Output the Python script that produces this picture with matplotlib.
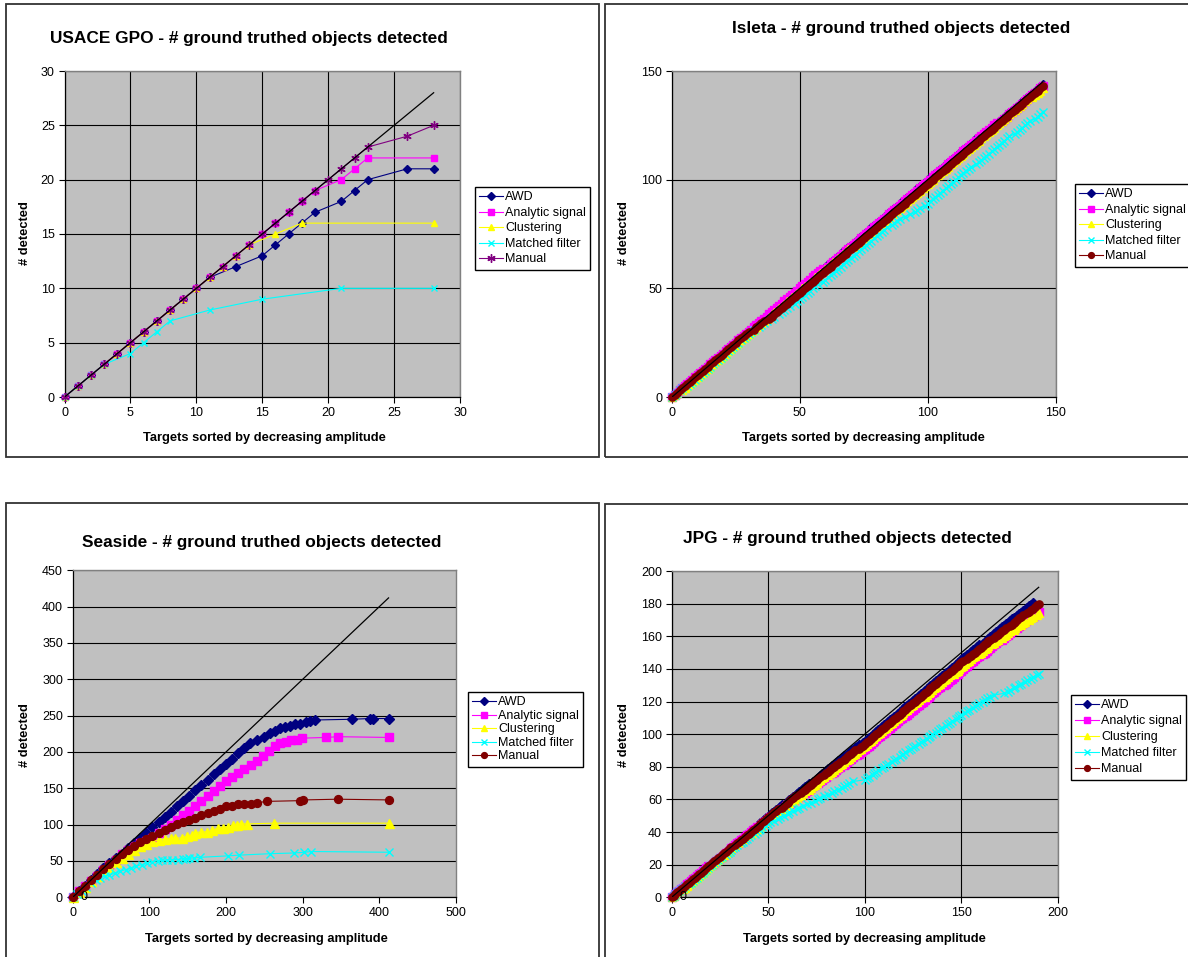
"""
Four Excel-style panels: ground truthed objects detected vs targets sorted
by decreasing amplitude, for USACE GPO, Isleta, Seaside and JPG.
Writes out.png (1188x957).
"""
import matplotlib
matplotlib.use("Agg")
import matplotlib.pyplot as plt
from matplotlib.patches import Rectangle

plt.rcParams["font.family"] = ["Liberation Sans", "DejaVu Sans"]

W, H = 1188, 957

SERIES = ["AWD", "Analytic signal", "Clustering", "Matched filter", "Manual"]
COLORS = ["#000080", "#FF00FF", "#FFFF00", "#00FFFF", "#800000"]
GPO_MANUAL_COLOR = "#800080"

# ---- USACE GPO: (rank of detected target, cumulative count) ----
GPO_AWD_X = [0, 1, 2, 3, 4, 5, 6, 7, 8, 9, 10, 11, 13, 15, 16, 17, 18, 19, 21, 22, 23, 26, 28]
GPO_AWD_Y = [0, 1, 2, 3, 4, 5, 6, 7, 8, 9, 10, 11, 12, 13, 14, 15, 16, 17, 18, 19, 20, 21, 21]
GPO_ANA_X = [0, 1, 2, 3, 4, 5, 6, 7, 8, 9, 10, 11, 12, 13, 14, 15, 16, 17, 18, 19, 21, 22, 23, 28]
GPO_ANA_Y = [0, 1, 2, 3, 4, 5, 6, 7, 8, 9, 10, 11, 12, 13, 14, 15, 16, 17, 18, 19, 20, 21, 22, 22]
GPO_CLU_X = [0, 1, 2, 3, 4, 5, 6, 7, 8, 9, 10, 11, 12, 13, 14, 16, 18, 28]
GPO_CLU_Y = [0, 1, 2, 3, 4, 5, 6, 7, 8, 9, 10, 11, 12, 13, 14, 15, 16, 16]
GPO_MF_X = [0, 1, 2, 3, 5, 6, 7, 8, 11, 15, 21, 28]
GPO_MF_Y = [0, 1, 2, 3, 4, 5, 6, 7, 8, 9, 10, 10]
GPO_MAN_X = [0, 1, 2, 3, 4, 5, 6, 7, 8, 9, 10, 11, 12, 13, 14, 15, 16, 17, 18, 19, 20, 21, 22, 23, 26, 28]
GPO_MAN_Y = [0, 1, 2, 3, 4, 5, 6, 7, 8, 9, 10, 11, 12, 13, 14, 15, 16, 17, 18, 19, 20, 21, 22, 23, 24, 25]

# ---- Isleta: 145 targets, ranks of missed targets per method ----
ISL_N = 145
ISL_AWD_MISSED = [120]
ISL_ANA_MISSED = [60, 128]
ISL_CLU_MISSED = [3, 70, 140]
ISL_MF_MISSED = [5, 33, 38, 41, 47, 58, 85, 90, 92, 94, 98, 118, 133, 141]
ISL_MAN_MISSED = [31, 37]

# ---- Seaside: points (rank, count) ----
SEA_AWD_X = [0, 8, 16, 24, 32, 40, 48, 56, 64, 72, 80, 88, 96, 104, 112, 120, 128, 136, 144,
             152, 160, 168, 176, 184, 192, 200, 208, 216, 224, 231, 240, 249, 258, 264, 271,
             277, 284, 290, 297, 304, 310, 316, 364, 388, 392, 412]
SEA_AWD_Y = [0, 8, 16, 24, 32, 40, 47, 54, 60, 68, 75, 82, 89, 97, 104, 111, 118, 126, 133,
             140, 147, 154, 161, 169, 176, 183, 191, 198, 206, 212, 216, 220, 226, 229, 233,
             234, 236, 238, 239, 241, 242, 244, 245, 246, 246, 246]
SEA_ANA_X = [0, 8, 16, 24, 32, 40, 48, 56, 64, 72, 80, 88, 96, 104, 112, 120, 128, 136, 144,
             152, 160, 168, 176, 184, 192, 200, 208, 216, 224, 232, 240, 248, 256, 264, 271,
             278, 285, 292, 299, 331, 346, 412]
SEA_ANA_Y = [0, 8, 15, 23, 30, 38, 45, 52, 59, 65, 70, 75, 78, 82, 88, 94, 100, 106, 113,
             119, 126, 132, 139, 146, 153, 160, 166, 171, 176, 182, 188, 194, 201, 208, 212,
             214, 216, 217, 219, 220, 221, 220]
SEA_CLU_X = [0, 8, 16, 24, 32, 40, 48, 56, 64, 72, 80, 88, 96, 104, 112, 120, 128, 134, 142,
             149, 156, 160, 168, 175, 182, 189, 196, 203, 209, 214, 219, 228, 262, 412]
SEA_CLU_Y = [0, 7, 14, 22, 29, 36, 42, 48, 54, 60, 65, 70, 74, 77, 79, 80, 81, 81, 82,
             84, 86, 89, 90, 90, 92, 95, 96, 97, 99, 100, 101, 101, 102, 102]
SEA_MF_X = [0, 6, 12, 18, 24, 30, 36, 42, 48, 55, 62, 69, 76, 83, 90, 97, 104, 111, 117,
            123, 130, 137, 144, 148, 152, 158, 166, 202, 217, 257, 289, 302, 311, 412]
SEA_MF_Y = [0, 4, 9, 14, 19, 24, 27, 29, 31, 33, 36, 38, 40, 43, 45, 47, 49, 50, 51,
            51, 52, 52, 53, 53, 54, 54, 55, 57, 58, 60, 61, 62, 63, 62]
SEA_MAN_X = [0, 8, 16, 24, 32, 40, 48, 56, 64, 72, 80, 88, 96, 104, 112, 120, 128, 136, 144,
             152, 160, 168, 176, 184, 192, 200, 208, 216, 224, 232, 240, 253, 297, 301, 346, 412]
SEA_MAN_Y = [0, 8, 16, 24, 31, 39, 46, 53, 59, 65, 71, 76, 80, 84, 88, 93, 97, 101, 104,
             106, 109, 113, 116, 119, 122, 125, 126, 128, 129, 129, 130, 132, 133, 134, 135, 134]

# ---- JPG: 190 targets, ranks of missed targets per method ----
JPG_N = 190
JPG_AWD_LAST = 187
JPG_AWD_MISSED = [58, 72, 90, 98, 160, 178]
JPG_ANA_MISSED = [20, 45, 52, 60, 68, 75, 82, 88, 95, 120, 140, 160, 170, 178, 186]
JPG_CLU_MISSED = [5, 40, 55, 62, 70, 80, 90, 130, 145, 158, 165, 170, 176, 180, 184, 188]
JPG_MF_MISSED = [8, 27, 35, 42, 48, 52, 54, 57, 59, 62, 64, 67, 69, 71, 73, 75, 78, 80, 82,
                 85, 87, 90, 93, 95, 96, 97, 98, 99, 103, 108, 113, 117, 122, 127, 131, 136,
                 141, 146, 151, 155, 160, 164, 166, 168, 169, 170, 171, 173, 176, 179, 182,
                 185, 188]
JPG_MAN_MISSED = [32, 56, 66, 78, 88, 96, 152, 166, 174, 183]

# end of the black 1:1 reference line in each panel
REF_END = {"gpo": 28, "isleta": 145, "seaside": 412, "jpg": 190}

TITLES = ["USACE GPO - # ground truthed objects detected",
          "Isleta - # ground truthed objects detected",
          "Seaside - # ground truthed objects detected",
          "JPG - # ground truthed objects detected"]
XLABEL = "Targets sorted by decreasing amplitude"
YLABEL = "# detected"


def cumulative(last, missed):
    """Points at each detected rank, y = running count of detections."""
    x = [0] + [r for r in range(1, last + 1) if r not in missed]
    return x, list(range(len(x)))


def fx(px):
    return px / W


def fy(py):
    return 1 - py / H


def add_axes(fig, x0, y0, x1, y1):
    return fig.add_axes([x0 / W, 1 - y1 / H, (x1 - x0) / W, (y1 - y0) / H])


MARKER_STYLE = [
    dict(marker="D", ms=3.6),
    dict(marker="s", ms=4.2),
    dict(marker="^", ms=4.8),
    dict(marker="x", ms=4.6, mew=1.0),
    dict(marker="o", ms=4.2),
]


def draw_panel(ax, data, ref_end, xmax, xstep, ymax, ystep, vgrid, gpo=False, scale=1.0):
    ax.set_facecolor("#C0C0C0")
    for i, ((x, y), name) in enumerate(zip(data, SERIES)):
        color = COLORS[i]
        style = dict(MARKER_STYLE[i])
        style["ms"] *= scale
        if gpo and i == 4:
            color = GPO_MANUAL_COLOR
            style = dict(marker=(6, 2, 0), ms=6, mew=1.0)
        ax.plot(x, y, color=color, lw=0.8, mfc=color, mec=color,
                label=name, clip_on=False, zorder=3 + i, **style)
    ax.plot([0, ref_end], [0, ref_end], color="black", lw=0.9,
            label="_nolegend_", zorder=10)
    ax.set_xlim(0, xmax)
    ax.set_ylim(0, ymax)
    ax.set_xticks(range(0, xmax + 1, xstep))
    ax.set_yticks(range(0, ymax + 1, ystep))
    ax.tick_params(direction="out", length=4, width=0.8, pad=3,
                   labelsize=9, colors="black")
    ax.yaxis.grid(True, color="black", lw=0.8)
    if vgrid:
        ax.xaxis.grid(True, color="black", lw=0.8)
    ax.set_axisbelow(True)
    for side in ("top", "right"):
        ax.spines[side].set_color("#808080")
        ax.spines[side].set_linewidth(1.0)
    for side in ("left", "bottom"):
        ax.spines[side].set_color("black")
        ax.spines[side].set_linewidth(0.9)


def add_legend(fig, ax, x, y, spacing):
    leg = ax.legend(loc="upper left", bbox_to_anchor=(fx(x), fy(y)),
                    bbox_transform=fig.transFigure, borderaxespad=0,
                    fancybox=False, edgecolor="black", framealpha=1,
                    fontsize=9, handlelength=1.9, handletextpad=0.15,
                    borderpad=0.35, labelspacing=spacing)
    leg.get_frame().set_linewidth(1.0)
    leg.set_zorder(20)
    # legend keys keep the normal marker size
    for h in leg.legend_handles:
        if h.get_marker() in ("D", "s", "^", "x", "o"):
            h.set_markersize(MARKER_STYLE[["D", "s", "^", "x", "o"].index(h.get_marker())]["ms"])


def main():
    fig = plt.figure(figsize=(W / 100, H / 100), dpi=100)

    # panel frames
    for x0, y0, x1, y1 in [(5.5, 4, 598.5, 457), (604.5, 4, 1200, 457),
                           (5.5, 503, 598.5, 980), (604.5, 504, 1200, 980)]:
        fig.add_artist(Rectangle((fx(x0), fy(y1)), (x1 - x0) / W, (y1 - y0) / H,
                                 transform=fig.transFigure, fill=False,
                                 edgecolor="#333333", lw=1.3))

    gpo = [(GPO_AWD_X, GPO_AWD_Y), (GPO_ANA_X, GPO_ANA_Y), (GPO_CLU_X, GPO_CLU_Y),
           (GPO_MF_X, GPO_MF_Y), (GPO_MAN_X, GPO_MAN_Y)]
    isleta = [cumulative(ISL_N, m) for m in
              (ISL_AWD_MISSED, ISL_ANA_MISSED, ISL_CLU_MISSED, ISL_MF_MISSED, ISL_MAN_MISSED)]
    seaside = [(SEA_AWD_X, SEA_AWD_Y), (SEA_ANA_X, SEA_ANA_Y), (SEA_CLU_X, SEA_CLU_Y),
               (SEA_MF_X, SEA_MF_Y), (SEA_MAN_X, SEA_MAN_Y)]
    jpg = [cumulative(JPG_AWD_LAST, JPG_AWD_MISSED)] + [
        cumulative(JPG_N, m) for m in
        (JPG_ANA_MISSED, JPG_CLU_MISSED, JPG_MF_MISSED, JPG_MAN_MISSED)]

    # top-left: USACE GPO
    ax = add_axes(fig, 64.5, 71, 460, 397)
    draw_panel(ax, gpo, REF_END["gpo"], 30, 5, 30, 5, True, gpo=True)
    add_legend(fig, ax, 475, 187, 0.28)
    fig.text(fx(249), fy(38), TITLES[0], ha="center", va="center",
             fontsize=12.4, fontweight="bold")
    fig.text(fx(264), fy(438), XLABEL, ha="center", va="center",
             fontsize=9.3, fontweight="bold")
    fig.text(fx(25), fy(233), YLABEL, ha="center", va="center", rotation=90,
             fontsize=9.3, fontweight="bold")

    # top-right: Isleta
    ax = add_axes(fig, 672, 71, 1055.5, 397)
    draw_panel(ax, isleta, REF_END["isleta"], 150, 50, 150, 50, True, scale=1.25)
    add_legend(fig, ax, 1075, 184, 0.28)
    fig.text(fx(901), fy(28), TITLES[1], ha="center", va="center",
             fontsize=12.4, fontweight="bold")
    fig.text(fx(863), fy(438), XLABEL, ha="center", va="center",
             fontsize=9.3, fontweight="bold")
    fig.text(fx(624), fy(233), YLABEL, ha="center", va="center", rotation=90,
             fontsize=9.3, fontweight="bold")

    # bottom-left: Seaside
    ax = add_axes(fig, 72.7, 570.3, 456, 897.3)
    draw_panel(ax, seaside, REF_END["seaside"], 500, 100, 450, 50, False, scale=1.35)
    add_legend(fig, ax, 468, 692, 0.12)
    ax.annotate("0", (0, 0), xytext=(8, 0), textcoords="offset points",
                ha="center", va="center", fontsize=9, annotation_clip=False, zorder=12)
    fig.text(fx(262), fy(542), TITLES[2], ha="center", va="center",
             fontsize=12.4, fontweight="bold")
    fig.text(fx(266), fy(939), XLABEL, ha="center", va="center",
             fontsize=9.3, fontweight="bold")
    fig.text(fx(25), fy(735), YLABEL, ha="center", va="center", rotation=90,
             fontsize=9.3, fontweight="bold")

    # bottom-right: JPG
    ax = add_axes(fig, 671.6, 571, 1058, 897.3)
    draw_panel(ax, jpg, REF_END["jpg"], 200, 50, 200, 20, True, scale=1.25)
    add_legend(fig, ax, 1071, 695, 0.32)
    ax.annotate("0", (0, 0), xytext=(8, 0), textcoords="offset points",
                ha="center", va="center", fontsize=9, annotation_clip=False, zorder=12)
    fig.text(fx(847), fy(538), TITLES[3], ha="center", va="center",
             fontsize=12.4, fontweight="bold")
    fig.text(fx(864), fy(939), XLABEL, ha="center", va="center",
             fontsize=9.3, fontweight="bold")
    fig.text(fx(624), fy(735), YLABEL, ha="center", va="center", rotation=90,
             fontsize=9.3, fontweight="bold")

    fig.savefig("out.png", dpi=100, facecolor="white")
    plt.close(fig)


if __name__ == "__main__":
    main()
